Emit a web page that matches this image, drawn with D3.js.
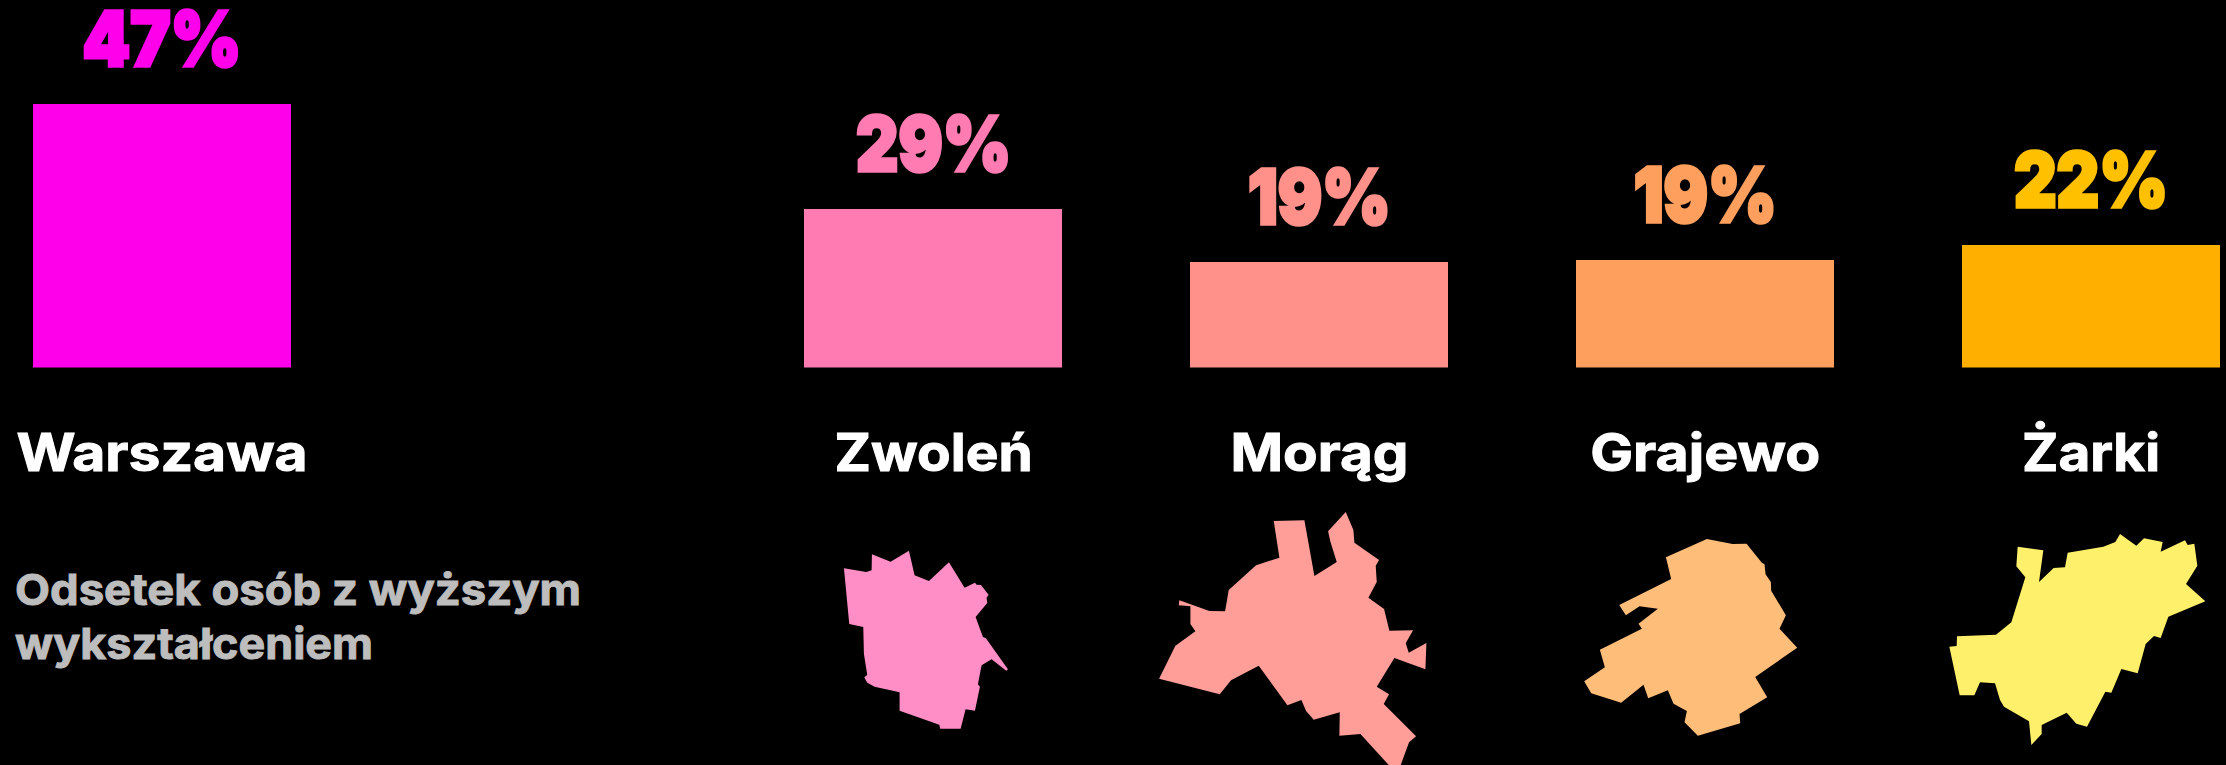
<!DOCTYPE html>
<html lang="pl">
<head>
<meta charset="utf-8">
<title>Odsetek osób z wyższym wykształceniem</title>
<script src="https://cdn.jsdelivr.net/npm/d3@7/dist/d3.min.js"></script>
<style>
html,body{margin:0;padding:0;background:#000;overflow:hidden}
svg{display:block}
text{font-family:Inter,"Noto Sans",sans-serif}
</style>
</head>
<body>
<script>
// ---- data ----
const slots = ["Warszawa", "", "Zwoleń", "Morąg", "Grajewo", "Żarki"];
const cities = ["Warszawa", "Zwoleń", "Morąg", "Grajewo", "Żarki"];
const shares = [47, 28.3, 18.8, 19.1, 21.8];
const shareLabels = ["47%", "29%", "19%", "19%", "22%"];
const noteLines = ["Odsetek osób z wyższym", "wykształceniem"];

// municipality outlines, in map units of each city's own map frame
const outlineZwolen = [[130,205],[197,216],[213,211],[214,163],[270,185],[325,152],[342,226],[385,243],[445,187],[492,263],[523,248],[528,254],[541,255],[564,284],[558,293],[560,309],[525,351],[547,411],[556,415],[622,508],[617,512],[573,478],[543,496],[532,553],[538,560],[523,632],[495,628],[480,686],[419,686],[416,674],[297,632],[297,577],[222,560],[200,548],[191,532],[200,525],[190,462],[188,381],[146,372]];
const outlineMorag = [[400,63],[492,61],[522,228],[589,186],[570,125],[563,94],[616,36],[639,90],[642,128],[716,180],[706,197],[709,246],[684,293],[731,327],[747,392],[818,391],[796,430],[805,458],[858,429],[855,508],[762,474],[709,560],[746,583],[730,612],[827,709],[806,727],[781,795],[745,795],[660,702],[597,707],[598,637],[520,659],[497,633],[483,600],[441,616],[355,497],[272,541],[238,583],[56,536],[105,437],[165,394],[150,372],[150,319],[115,316],[117,301],[207,333],[254,334],[265,270],[347,196],[417,173]];
const outlineGrajewo = [[440,57],[517,72],[559,71],[605,128],[613,133],[616,163],[632,186],[633,212],[677,286],[658,326],[711,383],[585,471],[621,532],[538,582],[540,610],[413,647],[373,607],[380,573],[340,551],[323,511],[264,535],[250,494],[183,548],[93,520],[72,484],[134,442],[119,389],[245,326],[235,311],[293,266],[238,259],[197,286],[177,255],[333,177],[317,112]];
const outlineZarki = [[570,42],[619,77],[642,55],[698,66],[692,95],[765,61],[773,75],[793,71],[802,137],[768,192],[826,244],[715,290],[692,354],[672,348],[647,372],[623,460],[574,447],[544,518],[526,515],[471,620],[439,611],[410,578],[335,615],[335,642],[304,675],[297,604],[222,560],[210,540],[195,490],[150,487],[133,526],[89,526],[58,380],[80,378],[81,349],[198,344],[244,307],[286,172],[259,139],[263,80],[340,91],[327,186],[371,144],[405,142],[413,98],[520,80],[556,66]];
const outlineCities = ["Zwoleń", "Morąg", "Grajewo", "Żarki"];
const outlines = [outlineZwolen, outlineMorag, outlineGrajewo, outlineZarki];

// ---- styles and layout ----
const barColors = ["#ff00ea", "#ff7bb2", "#ff918a", "#ff9f5e", "#ffaf00"];
const labelColors = ["#ff00ea", "#ff7bb2", "#ff918a", "#ff9f5e", "#ffc000"];
const mapColors = ["#ff8ec7", "#ff9d99", "#ffbd7a", "#fff06b"];
const shareWidths = [159, 155, 143, 143, 154];
const nameWidths = [291, 198, 178, 230, 138];
const noteWidths = [566, 358];
const mapFrameX = [-133, -179, -145, -161];   // frame left edge relative to slot centre
const mapFrameY = [500, 500, 520, 520];       // frame top edge
const W = 2226, H = 765;

const svg = d3.select("body").append("svg").attr("width", W).attr("height", H)
  .attr("viewBox", `0 0 ${W} ${H}`).style("background", "#000");

const x = d3.scaleBand().domain(slots).range([33, 2220]).paddingInner(0.3313).paddingOuter(0);
const y = d3.scaleLinear().domain([0, 47]).range([367.5, 104]);
const mapUnit = d3.scaleLinear().domain([0, 3]).range([0, 1]);
const barW = Math.round(x.bandwidth());

const row = cities.map((c, i) => ({c, v: shares[i], l: shareLabels[i], i}));

svg.append("g").selectAll("rect").data(row).join("rect")
  .attr("x", d => Math.floor(x(d.c))).attr("width", barW)
  .attr("y", d => Math.round(y(d.v))).attr("height", d => y(0) - Math.round(y(d.v)))
  .attr("fill", d => barColors[d.i]);

svg.append("g").selectAll("text").data(row).join("text")
  .attr("x", d => x(d.c) + x.bandwidth() / 2)
  .attr("y", d => y(d.v) - 38)
  .attr("text-anchor", "middle")
  .attr("font-size", 76).attr("font-weight", 900)
  .attr("textLength", d => shareWidths[d.i]).attr("lengthAdjust", "spacingAndGlyphs")
  .attr("fill", d => labelColors[d.i])
  .attr("stroke", d => labelColors[d.i]).attr("stroke-width", 3.5).attr("stroke-linejoin", "miter")
  .text(d => d.l);

svg.append("g").selectAll("text").data(row).join("text")
  .attr("x", d => x(d.c) + x.bandwidth() / 2)
  .attr("y", 471)
  .attr("text-anchor", "middle")
  .attr("font-size", 52).attr("font-weight", 700)
  .attr("textLength", d => nameWidths[d.i]).attr("lengthAdjust", "spacingAndGlyphs")
  .attr("fill", "#fff")
  .attr("stroke", "#fff").attr("stroke-width", 1)
  .text(d => d.c);

svg.append("g").selectAll("text").data(noteLines).join("text")
  .attr("x", 15)
  .attr("y", (d, i) => 605 + i * 53.5)
  .attr("font-size", 43).attr("font-weight", 700)
  .attr("textLength", (d, i) => noteWidths[i]).attr("lengthAdjust", "spacingAndGlyphs")
  .attr("fill", "#bdbdbd")
  .attr("stroke", "#bdbdbd").attr("stroke-width", 1)
  .text(d => d);

const line = d3.line();
svg.append("g").selectAll("path").data(outlineCities).join("path")
  .attr("fill", (d, i) => mapColors[i])
  .attr("d", (d, i) => {
    const cx = x(d) + x.bandwidth() / 2 + mapFrameX[i];
    const cy = mapFrameY[i];
    return line.x(p => cx + mapUnit(p[0])).y(p => cy + mapUnit(p[1]))(outlines[i]) + "Z";
  });
</script>
</body>
</html>
